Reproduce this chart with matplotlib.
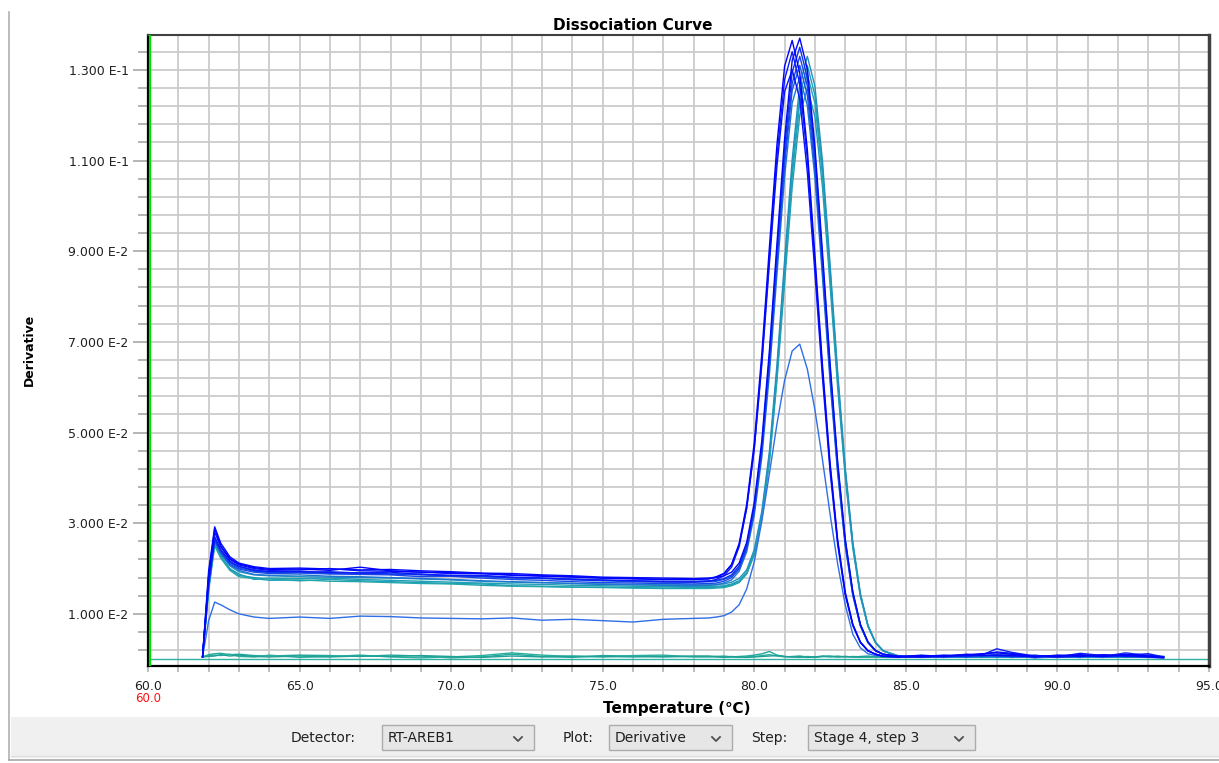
import matplotlib
matplotlib.use("Agg")
import matplotlib.pyplot as plt
from matplotlib.patches import Rectangle
from matplotlib.lines import Line2D
from matplotlib.ticker import FixedLocator, FuncFormatter

# temperature points shared by every well (deg C)
temps = [61.8, 62.0, 62.2, 62.4, 62.7, 63.0, 63.5, 64.0, 65.0, 66.0, 67.0, 68.0, 69.0, 70.0, 71.0,
         72.0, 73.0, 74.0, 75.0, 76.0, 77.0, 78.0,
         78.5, 78.75, 79.0, 79.25, 79.5, 79.75, 80.0, 80.25, 80.5, 80.75, 81.0, 81.25, 81.5, 81.75,
         82.0, 82.25, 82.5, 82.75, 83.0, 83.25, 83.5, 83.75, 84.0, 84.25,
         84.75, 85.5, 86.25, 87.0, 87.5, 88.0, 88.5, 89.25, 90.0, 90.75, 91.5, 92.25, 93.0, 93.5]

# derivative values, units of 1e-3
w01 = [0.6, 18.5, 28.8, 25.0, 22.2, 21.0, 20.2, 19.8, 19.9, 19.6, 20.3, 19.5, 19.2, 19.1, 18.9, 18.6, 18.4, 18.2, 17.9, 17.8, 17.6, 17.6,
       17.7, 18.1, 18.9, 20.9, 25.5, 34.2, 47.8, 67.5, 91.0, 113.7, 130.8, 136.5, 129.3, 112.4, 89.1, 64.8, 43.3, 26.4, 14.8, 7.7, 3.8, 1.9, 1.1, 0.65,
       0.6, 0.8, 0.7, 1.0, 1.2, 1.4, 1.1, 0.6, 0.7, 0.9, 0.6, 1.1, 0.7, 0.4]
w02 = [0.5, 17.0, 27.0, 24.2, 21.6, 20.4, 19.6, 19.3, 19.4, 19.1, 19.0, 19.2, 18.7, 18.5, 18.5, 18.1, 17.9, 17.6, 17.4, 17.3, 17.1, 17.0,
       17.2, 17.6, 18.4, 20.3, 24.8, 33.3, 46.6, 65.9, 88.9, 111.2, 127.9, 134.0, 126.9, 110.3, 87.4, 63.6, 42.5, 25.9, 14.5, 7.6, 3.7, 1.9, 1.1, 0.65,
       0.5, 0.6, 0.9, 0.7, 0.9, 2.3, 1.5, 0.7, 0.5, 1.3, 0.8, 0.6, 0.9, 0.5]
w03 = [0.6, 19.5, 29.2, 25.6, 22.6, 21.2, 20.4, 20.0, 20.1, 19.9, 19.7, 19.8, 19.5, 19.3, 19.0, 18.9, 18.6, 18.4, 18.1, 18.0, 17.9, 17.8,
       17.9, 18.0, 18.4, 19.2, 21.2, 25.8, 34.6, 48.3, 68.2, 91.9, 114.8, 132.1, 137.0, 130.2, 113.2, 89.7, 65.3, 43.6, 26.6, 14.9, 7.7, 3.8, 1.9, 1.1,
       0.7, 0.5, 0.6, 1.1, 0.8, 0.9, 0.8, 0.5, 0.9, 0.6, 1.0, 0.8, 0.5, 0.3]
w04 = [0.5, 16.5, 26.5, 24.0, 21.5, 20.5, 19.7, 19.3, 19.2, 19.3, 19.0, 18.8, 18.8, 18.4, 18.3, 18.0, 17.9, 17.7, 17.5, 17.3, 17.2, 17.2,
       17.3, 17.4, 17.8, 18.6, 20.6, 25.1, 33.8, 47.2, 66.8, 90.1, 112.6, 129.5, 135.0, 128.3, 111.6, 88.4, 64.3, 43.0, 26.2, 14.7, 7.6, 3.8, 1.9, 1.1,
       0.4, 0.7, 0.5, 0.8, 1.0, 0.7, 0.6, 0.9, 0.4, 0.7, 0.6, 1.4, 0.8, 0.4]
w05 = [0.5, 17.5, 26.2, 23.6, 21.0, 19.9, 19.2, 18.9, 19.0, 18.8, 18.7, 18.6, 18.2, 18.3, 17.9, 17.6, 17.4, 17.1, 16.9, 16.8, 16.7, 16.6,
       16.7, 16.8, 17.2, 18.0, 19.9, 24.4, 32.9, 46.1, 65.3, 88.2, 110.4, 127.0, 133.0, 126.4, 109.9, 87.1, 63.4, 42.3, 25.8, 14.5, 7.5, 3.7, 1.9, 1.1,
       0.6, 0.4, 0.8, 0.6, 0.7, 1.0, 0.5, 0.7, 0.6, 0.5, 0.9, 0.6, 0.4, 0.3]
w06 = [0.5, 16.0, 26.8, 24.0, 21.3, 20.1, 19.4, 19.1, 19.2, 18.9, 19.1, 18.8, 18.6, 18.4, 18.2, 17.9, 17.8, 17.5, 17.3, 17.1, 17.0, 17.0,
       17.1, 17.2, 17.6, 18.3, 20.2, 24.6, 33.0, 46.0, 64.9, 87.4, 109.1, 125.5, 131.0, 124.4, 108.2, 85.8, 62.4, 41.7, 25.4, 14.3, 7.4, 3.7, 1.9, 1.1,
       0.5, 0.9, 0.6, 0.5, 0.6, 0.8, 1.0, 0.4, 0.6, 0.8, 0.5, 0.7, 0.6, 0.5]
w07 = [0.5, 15.5, 25.8, 23.2, 20.6, 19.3, 18.6, 18.4, 18.2, 18.1, 18.0, 17.9, 17.7, 17.5, 17.2, 17.0, 16.9, 16.7, 16.6, 16.5, 16.4, 16.4,
       16.4, 16.5, 16.6, 17.0, 17.8, 19.7, 24.2, 32.7, 45.9, 65.1, 88.0, 110.2, 126.8, 133.0, 126.4, 109.9, 87.1, 63.4, 42.3, 25.8, 14.5, 7.5, 3.7, 1.9,
       0.7, 0.6, 0.4, 0.7, 0.5, 0.6, 0.7, 0.8, 0.5, 0.4, 0.7, 0.5, 0.8, 0.6]
w08 = [0.5, 16.0, 25.5, 22.8, 20.0, 18.8, 17.6, 17.9, 17.8, 17.9, 17.6, 17.4, 17.2, 17.0, 16.8, 16.6, 16.5, 16.3, 16.2, 16.1, 16.0, 16.0,
       16.0, 16.1, 16.2, 16.6, 17.3, 19.2, 23.6, 32.0, 45.0, 63.9, 86.4, 108.1, 124.5, 131.0, 124.4, 108.2, 85.8, 62.4, 41.7, 25.4, 14.3, 7.4, 3.7, 1.9,
       0.5, 0.7, 0.6, 0.4, 0.8, 0.5, 0.4, 0.6, 0.7, 0.5, 0.4, 0.9, 0.6, 0.5]
w09 = [0.5, 15.0, 25.0, 22.3, 19.6, 18.2, 17.8, 17.4, 17.5, 17.2, 17.1, 16.9, 16.7, 16.6, 16.3, 16.1, 16.0, 15.9, 15.8, 15.7, 15.6, 15.6,
       15.6, 15.7, 15.8, 16.2, 16.9, 18.8, 23.1, 31.3, 44.1, 62.7, 84.8, 106.4, 122.7, 129.0, 122.6, 106.6, 84.5, 61.5, 41.1, 25.1, 14.1, 7.3, 3.6, 1.8,
       0.8, 0.5, 0.7, 0.6, 0.4, 0.7, 0.6, 0.5, 0.4, 0.6, 0.8, 0.5, 0.7, 0.5]
w10 = [0.5, 16.8, 26.0, 23.4, 20.8, 19.6, 18.7, 18.5, 18.6, 18.3, 18.2, 18.0, 17.8, 17.6, 17.3, 17.1, 16.9, 16.7, 16.5, 16.4, 16.3, 16.2,
       16.3, 16.4, 16.8, 17.5, 19.4, 23.7, 31.8, 44.6, 63.0, 85.1, 106.4, 122.7, 128.5, 122.1, 106.2, 84.2, 61.2, 41.0, 25.0, 14.0, 7.3, 3.6, 1.8, 1.1,
       0.4, 0.6, 0.8, 0.9, 0.6, 1.1, 0.7, 0.3, 0.5, 0.7, 0.4, 0.6, 0.5, 0.4]
w11 = [0.5, 15.8, 25.4, 22.6, 19.9, 18.5, 18.0, 17.7, 17.3, 17.6, 17.3, 17.1, 16.9, 16.7, 16.6, 16.2, 16.1, 15.9, 15.9, 15.8, 15.7, 15.8,
       15.8, 15.9, 16.0, 16.4, 17.1, 18.9, 23.1, 31.1, 43.5, 61.6, 83.1, 104.1, 120.0, 126.0, 119.7, 104.1, 82.5, 60.0, 40.2, 24.5, 13.8, 7.2, 3.6, 1.8,
       0.6, 0.8, 0.5, 0.5, 0.7, 0.4, 0.5, 0.7, 0.6, 0.4, 0.6, 0.7, 0.5, 0.6]
w12 = [0.6, 18.0, 28.0, 24.8, 22.0, 20.8, 20.0, 19.6, 19.7, 20.0, 19.5, 19.4, 19.2, 18.9, 18.9, 18.5, 18.3, 18.1, 17.9, 17.7, 17.6, 17.6,
       17.8, 18.2, 18.9, 20.8, 25.2, 33.4, 46.4, 65.1, 87.4, 109.0, 125.2, 130.0, 123.6, 107.4, 85.2, 62.0, 41.4, 25.3, 14.2, 7.4, 3.7, 1.8, 1.1, 0.65,
       0.5, 0.6, 0.7, 0.8, 1.1, 1.6, 1.3, 0.6, 0.8, 1.0, 0.7, 0.9, 1.2, 0.5]
w13 = [0.5, 8.5, 12.6, 12.0, 10.9, 10.0, 9.3, 9.0, 9.3, 9.0, 9.5, 9.4, 9.1, 9.0, 8.9, 9.1, 8.6, 8.8, 8.5, 8.2, 8.8, 9.0,
       9.1, 9.3, 9.6, 10.4, 12.0, 15.5, 21.5, 30.5, 41.0, 52.0, 61.5, 68.0, 69.5, 64.0, 55.0, 44.0, 32.0, 21.0, 12.0, 5.5, 2.5, 1.2, 0.8, 0.6,
       0.5, 0.6, 0.5, 0.7, 0.6, 0.5, 0.6, 0.4, 0.5, 0.6, 0.5, 0.7, 0.5, 0.4]
ntc1 = [0.5, 1.0, 1.2, 1.3, 1.0, 1.1, 0.8, 0.7, 0.9, 0.8, 0.6, 0.9, 0.7, 0.3, 0.5, 1.1, 0.6, 0.4, 0.8, 0.7, 0.5, 0.6,
        0.6, 0.5, 0.4, 0.5, 0.6, 0.7, 0.9, 1.2, 1.7, 0.9, 0.6, 0.5, 0.4, 0.6, 0.5, 0.7, 0.6, 0.5, 0.6, 0.5, 0.4, 0.5, 0.6, 0.5,
        0.5, 0.6, 0.4, 0.6, 0.5, 0.7, 0.6, 0.4, 0.5, 0.6, 0.5, 0.4, 0.6, 0.5]
ntc2 = [0.5, 0.8, 0.9, 0.8, 1.1, 0.6, 0.5, 0.9, 0.4, 0.6, 0.9, 0.5, 0.3, 0.5, 0.8, 1.4, 0.9, 0.6, 0.5, 0.8, 0.9, 0.5,
        0.5, 0.6, 0.7, 0.5, 0.4, 0.5, 0.6, 0.8, 1.0, 0.7, 0.5, 0.6, 0.7, 0.5, 0.4, 0.6, 0.5, 0.7, 0.5, 0.6, 0.5, 0.4, 0.5, 0.6,
        0.6, 0.4, 0.5, 0.7, 0.6, 0.5, 0.4, 0.6, 0.7, 0.5, 0.6, 0.5, 0.4, 0.6]
ntc3 = [0.5, 0.6, 0.7, 1.0, 0.7, 0.9, 0.6, 0.5, 0.7, 0.5, 0.7, 0.6, 0.8, 0.6, 0.4, 0.7, 0.5, 0.7, 0.6, 0.5, 0.6, 0.7,
        0.7, 0.6, 0.5, 0.6, 0.5, 0.4, 0.5, 0.6, 0.7, 0.8, 0.6, 0.5, 0.6, 0.4, 0.5, 0.6, 0.7, 0.5, 0.6, 0.5, 0.6, 0.7, 0.5, 0.4,
        0.4, 0.5, 0.6, 0.5, 0.4, 0.6, 0.5, 0.7, 0.5, 0.4, 0.5, 0.6, 0.5, 0.4]

# drawing order: controls and teal wells first, blue on top
wells = [ntc1, ntc2, ntc3, w11, w09, w08, w07, w10, w13, w06, w05, w04, w02, w12, w01, w03]
well_colors = ["#22a89c", "#2aae9e", "#1fa096", "#209ab8", "#22a6ac", "#1fa0b4", "#2090c0", "#1f74d2",
               "#2e6ee6", "#1658e0", "#1a48e4", "#1030ee", "#0a1cf5", "#0612fa", "#0000ff", "#0008f8"]

x_labels = [60, 65, 70, 75, 80, 85, 90, 95]
y_labels = [0.01, 0.03, 0.05, 0.07, 0.09, 0.11, 0.13]
y_label_text = ["1.000 E-2", "3.000 E-2", "5.000 E-2", "7.000 E-2", "9.000 E-2", "1.100 E-1", "1.300 E-1"]

W, H = 1219, 763


def fx(px):
    return px / W


def fy(py):
    return 1 - py / H


fig = plt.figure(figsize=(W / 100, H / 100), dpi=100)
fig.patch.set_facecolor("white")
ax = fig.add_axes([fx(148), fy(666), fx(1209) - fx(148), fy(35) - fy(666)])

for vals, col in zip(wells, well_colors):
    ax.plot(temps, [v * 1e-3 for v in vals], color=col, lw=1.0, zorder=3)

ax.axhline(0.0, color="#30b0a0", lw=1.0, zorder=2)
ax.axvline(60.07, color="#00e000", lw=1.6, zorder=4)

ax.set_xlim(60, 95)
ax.set_ylim(-0.0015, 0.1377)

# grid / ticks
ax.xaxis.set_major_locator(FixedLocator(list(range(60, 96))))
ax.xaxis.set_major_formatter(FuncFormatter(lambda v, p: "%.1f" % v if int(round(v)) in x_labels else ""))
y_minor = [round(0.002 + 0.004 * k, 3) for k in range(35)]
y_minor = [v for v in y_minor if min(abs(v - m) for m in y_labels) > 1e-6]
ax.yaxis.set_major_locator(FixedLocator(y_labels))
ax.yaxis.set_minor_locator(FixedLocator(y_minor))
ax.set_yticklabels(y_label_text)
ax.grid(True, which="both", color="#cbcbcb", lw=1.3, zorder=0)
ax.set_axisbelow(True)
ax.tick_params(axis="x", length=4.5, width=1.2, color="#b4b4b4", pad=5.5, labelsize=9, labelcolor="#202020")
ax.tick_params(axis="y", which="major", length=11, width=1.2, color="#a8a8a8", pad=3, labelsize=9, labelcolor="#202020")
ax.tick_params(axis="y", which="minor", length=7, width=1.2, color="#a8a8a8")

for side, col, lw in [("left", "black", 1.6), ("bottom", "black", 1.6), ("top", "#404040", 1.5), ("right", "#404040", 2.5)]:
    ax.spines[side].set_color(col)
    ax.spines[side].set_linewidth(lw)

# titles
fig.text(fx(633), fy(26), "Dissociation Curve", ha="center", va="center", fontsize=11, fontweight="bold")
fig.text(fx(677), fy(708), "Temperature (\u2103)", ha="center", va="center", fontsize=11, fontweight="bold")
fig.text(fx(29), fy(350), "Derivative", ha="center", va="center", rotation=90, fontsize=9, fontweight="bold")
fig.text(fx(148), fy(699), "60.0", ha="center", va="center", fontsize=8.5, color="#ff1010")

# window frame
fig.add_artist(Line2D([fx(9), fx(9)], [fy(12), fy(760)], color="#b0b0b0", lw=1.2))
fig.add_artist(Rectangle((fx(11), fy(758)), fx(1219) - fx(11), fy(717) - fy(758), facecolor="#f0f0f0",
                         edgecolor="none"))
fig.add_artist(Line2D([fx(9), fx(1219)], [fy(760), fy(760)], color="#a8a8a8", lw=1.2))
fig.add_artist(Line2D([fx(11), fx(1219)], [fy(756), fy(756)], color="#e0e0e0", lw=1.0))

# bottom combo boxes
controls = [("Detector:", 291, "RT-AREB1", 382, 534), ("Plot:", 563, "Derivative", 609, 732),
            ("Step:", 751, "Stage 4, step 3", 808, 975)]
for lab, lx, val, bx0, bx1 in controls:
    fig.text(fx(lx), fy(738), lab, ha="left", va="center", fontsize=10, color="#202020")
    fig.add_artist(Rectangle((fx(bx0), fy(750)), fx(bx1) - fx(bx0), fy(725) - fy(750), facecolor="#e6e6e6",
                             edgecolor="#acacac", lw=1.0))
    fig.text(fx(bx0 + 6), fy(738), val, ha="left", va="center", fontsize=10, color="#202020")
    cx = bx1 - 16
    fig.add_artist(Line2D([fx(cx - 4), fx(cx), fx(cx + 4)], [fy(737), fy(741), fy(737)], color="#505050", lw=1.3))

fig.savefig("out.png", dpi=100)
